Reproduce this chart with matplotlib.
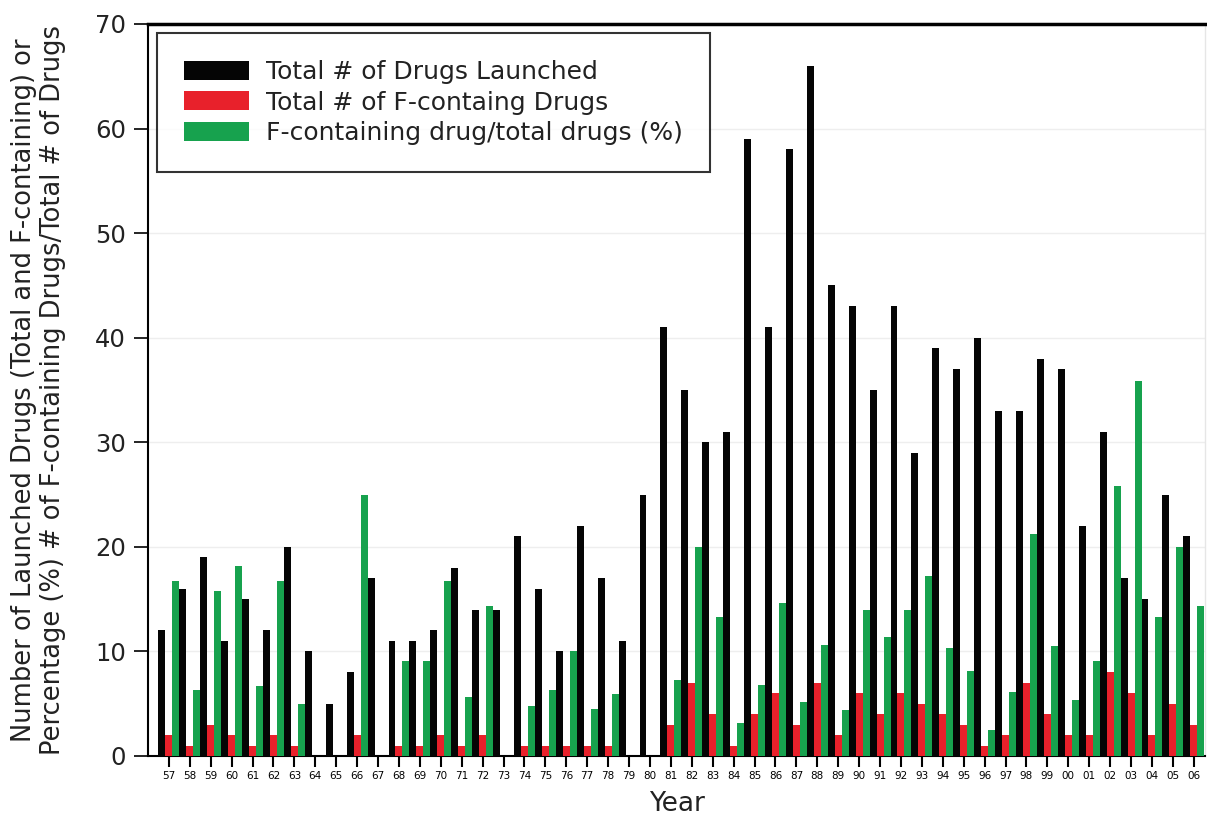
import matplotlib
matplotlib.use("Agg")
import matplotlib.pyplot as plt
import numpy as np

years = ["57", "58", "59", "60", "61", "62", "63", "64", "65", "66",
         "67", "68", "69", "70", "71", "72", "73", "74", "75", "76",
         "77", "78", "79", "80", "81", "82", "83", "84", "85", "86",
         "87", "88", "89", "90", "91", "92", "93", "94", "95", "96",
         "97", "98", "99", "00", "01", "02", "03", "04", "05", "06"]

total = [12, 16, 19, 11, 15, 12, 20, 10, 5, 8,
         17, 11, 11, 12, 18, 14, 14, 21, 16, 10,
         22, 17, 11, 25, 41, 35, 30, 31, 59, 41,
         58, 66, 45, 43, 35, 43, 29, 39, 37, 40,
         33, 33, 38, 37, 22, 31, 17, 15, 25, 21]

fluoro = [2, 1, 3, 2, 1, 2, 1, 0, 0, 2,
          0, 1, 1, 2, 1, 2, 0, 1, 1, 1,
          1, 1, 0, 0, 3, 7, 4, 1, 4, 6,
          3, 7, 2, 6, 4, 6, 5, 4, 3, 1,
          2, 7, 4, 2, 2, 8, 6, 2, 5, 3]

percent = [16.7, 6.3, 15.8, 18.2, 6.7, 16.7, 5.0, 0, 0, 25.0,
           0, 9.1, 9.1, 16.7, 5.6, 14.3, 0, 4.8, 6.3, 10.0,
           4.5, 5.9, 0, 0, 7.3, 20.0, 13.3, 3.2, 6.8, 14.6,
           5.2, 10.6, 4.4, 14.0, 11.4, 14.0, 17.2, 10.3, 8.1, 2.5,
           6.1, 21.2, 10.5, 5.4, 9.1, 25.8, 35.9, 13.3, 20.0, 14.3]

labels = ["Total # of Drugs Launched",
          "Total # of F-containg Drugs",
          "F-containing drug/total drugs (%)"]

C_BLACK = "#050505"
C_RED = "#e8212b"
C_GREEN = "#17a24e"

fig = plt.figure(figsize=(12.07, 8.21), dpi=100)
ax = fig.add_axes([0.1226, 0.0792, 0.876, 0.8916])

x = np.arange(len(years))
w = 0.333
ax.bar(x - w, total, width=w, color=C_BLACK, label=labels[0], zorder=3)
ax.bar(x, fluoro, width=w, color=C_RED, label=labels[1], zorder=3)
ax.bar(x + w, percent, width=w, color=C_GREEN, label=labels[2], zorder=3)

ax.set_xlim(-1.0, 49.55)
ax.set_ylim(0, 70)
ax.set_yticks(np.arange(0, 71, 10))
ax.set_xticks(x)
ax.set_xticklabels(years, fontsize=7.5)
ax.tick_params(axis="x", length=8, width=1.5, direction="out", pad=3)
ax.tick_params(axis="y", length=10, width=1.2, direction="out", pad=6,
               labelsize=17.5, labelcolor="#222222")

ax.yaxis.grid(True, color="#eeeeee", linewidth=1.0, zorder=0)
ax.set_axisbelow(True)

for s in ["left", "bottom"]:
    ax.spines[s].set_linewidth(1.5)
ax.spines["top"].set_linewidth(2.5)
ax.spines["right"].set_color("#e6e6e6")
ax.spines["right"].set_linewidth(1.0)

ax.set_xlabel("Year", fontsize=19, color="#222222", labelpad=7)
ax.set_ylabel("Number of Launched Drugs (Total and F-containing) or\n"
              "Percentage (%) # of F-containing Drugs/Total # of Drugs",
              fontsize=18.5, color="#222222", linespacing=1.15)
ax.yaxis.set_label_coords(-0.078, 0.5)

leg = ax.legend(loc="upper left", bbox_to_anchor=(0.0085, 0.988),
                borderaxespad=0, fontsize=18, frameon=True, fancybox=False,
                edgecolor="black", handlelength=2.6, handleheight=0.8,
                handletextpad=0.65, labelspacing=0.25, borderpad=1.1)
leg.get_frame().set_linewidth(1.5)
for t in leg.get_texts():
    t.set_color("#222222")

fig.savefig("out.png", dpi=100)
